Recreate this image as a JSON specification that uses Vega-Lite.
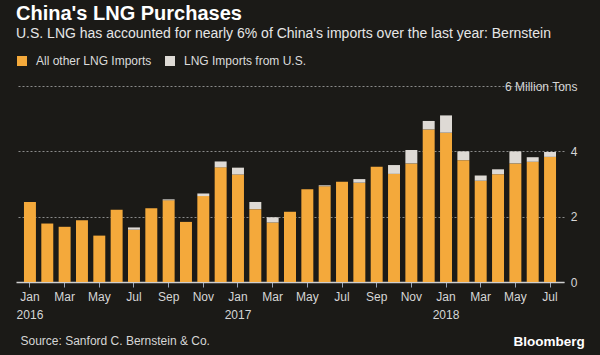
{
  "$schema": "https://vega.github.io/schema/vega-lite/v6.json",
  "width": 548,
  "height": 196,
  "autosize": {"type": "none"},
  "padding": {"left": 16, "top": 86, "right": 36, "bottom": 73},
  "background": "#1b1a17",
  "title": {
    "text": "China's LNG Purchases",
    "subtitle": "U.S. LNG has accounted for nearly 6% of China's imports over the last year: Bernstein",
    "anchor": "start",
    "frame": "group",
    "orient": "top",
    "offset": 14,
    "font": "Liberation Sans",
    "fontSize": 20,
    "fontWeight": "bold",
    "color": "#ffffff",
    "subtitleFont": "Liberation Sans",
    "subtitleFontSize": 14,
    "subtitleColor": "#e6e6e6",
    "subtitlePadding": 3
  },
  "data": {
    "values": [
      {"m": "2016-01", "other": 2.45, "us": 0},
      {"m": "2016-02", "other": 1.79, "us": 0},
      {"m": "2016-03", "other": 1.69, "us": 0},
      {"m": "2016-04", "other": 1.89, "us": 0},
      {"m": "2016-05", "other": 1.42, "us": 0},
      {"m": "2016-06", "other": 2.21, "us": 0},
      {"m": "2016-07", "other": 1.6, "us": 0.07},
      {"m": "2016-08", "other": 2.26, "us": 0},
      {"m": "2016-09", "other": 2.5, "us": 0.03},
      {"m": "2016-10", "other": 1.84, "us": 0},
      {"m": "2016-11", "other": 2.63, "us": 0.08},
      {"m": "2016-12", "other": 3.51, "us": 0.18},
      {"m": "2017-01", "other": 3.29, "us": 0.21},
      {"m": "2017-02", "other": 2.23, "us": 0.22},
      {"m": "2017-03", "other": 1.82, "us": 0.16},
      {"m": "2017-04", "other": 2.15, "us": 0},
      {"m": "2017-05", "other": 2.84, "us": 0},
      {"m": "2017-06", "other": 2.93, "us": 0.03},
      {"m": "2017-07", "other": 3.07, "us": 0},
      {"m": "2017-08", "other": 3.04, "us": 0.11},
      {"m": "2017-09", "other": 3.53, "us": 0},
      {"m": "2017-10", "other": 3.31, "us": 0.27},
      {"m": "2017-11", "other": 3.63, "us": 0.41},
      {"m": "2017-12", "other": 4.67, "us": 0.26},
      {"m": "2018-01", "other": 4.57, "us": 0.53},
      {"m": "2018-02", "other": 3.73, "us": 0.27},
      {"m": "2018-03", "other": 3.1, "us": 0.16},
      {"m": "2018-04", "other": 3.3, "us": 0.15},
      {"m": "2018-05", "other": 3.63, "us": 0.37},
      {"m": "2018-06", "other": 3.68, "us": 0.14},
      {"m": "2018-07", "other": 3.83, "us": 0.15}
    ]
  },
  "transform": [{"fold": ["other", "us"], "as": ["series", "value"]}],
  "mark": {"type": "bar"},
  "encoding": {
    "x": {
      "field": "m",
      "type": "ordinal",
      "scale": {"paddingInner": 0.31, "paddingOuter": 0.46},
      "axis": {
        "values": ["2016-01","2016-03","2016-05","2016-07","2016-09","2016-11","2017-01","2017-03","2017-05","2017-07","2017-09","2017-11","2018-01","2018-03","2018-05","2018-07"],
        "labelExpr": "substring(datum.value,5,7)=='01' ? ['Jan', substring(datum.value,0,4)] : ['Jan','Feb','Mar','Apr','May','Jun','Jul','Aug','Sep','Oct','Nov','Dec'][toNumber(substring(datum.value,5,7))-1]",
        "labelAngle": 0,
        "labelAlign": "center",
        "labelBaseline": "top",
        "labelLineHeight": 18,
        "labelFont": "Liberation Sans",
        "labelFontSize": 12,
        "labelColor": "#d6d6d6",
        "labelPadding": 4,
        "tickSize": 5,
        "tickColor": "#9aa6b8",
        "domainColor": "#cfcfcf",
        "domainWidth": 1.5,
        "grid": false,
        "title": "Source: Sanford C. Bernstein & Co.",
        "titleX": 4,
        "titleY": 62,
        "titleAlign": "left",
        "titleBaseline": "alphabetic",
        "titleFont": "Liberation Sans",
        "titleFontSize": 12,
        "titleFontWeight": "normal",
        "titleColor": "#d6d6d6"
      }
    },
    "y": {
      "field": "value",
      "type": "quantitative",
      "stack": "zero",
      "scale": {"domain": [0, 6], "nice": false},
      "axis": {
        "orient": "right",
        "values": [0, 2, 4, 6],
        "labelExpr": "datum.value == 6 ? '6 Million Tons' : datum.label",
        "labelAlign": "right",
        "labelBaseline": "middle",
        "labelPadding": 13,
        "labelFont": "Liberation Sans",
        "labelFontSize": 12,
        "labelColor": "#d6d6d6",
        "ticks": false,
        "domain": false,
        "grid": true,
        "gridColor": "#8a8a8a",
        "gridDash": [2, 2],
        "gridWidth": 1,
        "title": "Bloomberg",
        "titleAngle": 0,
        "titleX": -51,
        "titleY": 259,
        "titleAlign": "left",
        "titleBaseline": "alphabetic",
        "titleFont": "Liberation Sans",
        "titleFontSize": 13.5,
        "titleFontWeight": "bold",
        "titleColor": "#ffffff"
      }
    },
    "color": {
      "field": "series",
      "type": "nominal",
      "scale": {"domain": ["other", "us"], "range": ["#f4a93b", "#dedad5"]},
      "legend": {
        "orient": "none",
        "legendX": 0,
        "legendY": -31,
        "direction": "horizontal",
        "title": null,
        "labelExpr": "datum.value == 'other' ? 'All other LNG Imports' : 'LNG Imports from U.S.'",
        "symbolType": "square",
        "symbolSize": 100,
        "symbolStrokeWidth": 0,
        "labelFont": "Liberation Sans",
        "labelFontSize": 12,
        "labelColor": "#dcdcdc",
        "labelOffset": 8,
        "columnPadding": 12
      }
    },
    "order": {"field": "series", "sort": "ascending"}
  },
  "config": {
    "view": {"stroke": null},
    "bar": {"stroke": null}
  }
}
